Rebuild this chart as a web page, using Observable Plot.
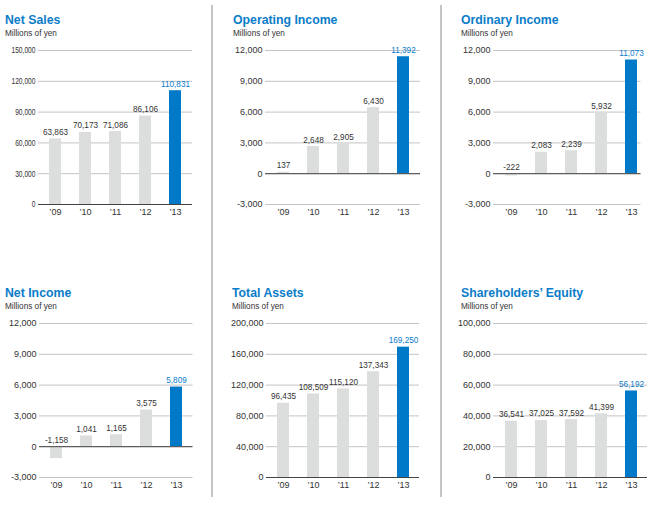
<!DOCTYPE html>
<html><head><meta charset="utf-8">
<script src="https://cdn.jsdelivr.net/npm/d3@7"></script>
<script src="https://cdn.jsdelivr.net/npm/@observablehq/plot@0.6"></script>
<style>
body{margin:0;background:#fff;font-family:"Liberation Sans",Arial,sans-serif;}
#root{position:relative;width:652px;height:523px;overflow:hidden;background:#fff;}
.title{position:absolute;font-weight:bold;font-size:13.5px;line-height:1;color:#0a7cc9;transform:scaleX(0.91);transform-origin:0 0;white-space:nowrap;}
.sub{position:absolute;font-size:8.2px;line-height:1;color:#333;white-space:nowrap;}
.sep{position:absolute;width:2px;background:#c4c4c4;top:5px;height:492px;}
.plot{position:absolute;}
</style></head><body><div id="root"></div>
<script>
const years = ["09", "10", "11", "12", "13"];
const netSales = [63863, 70173, 71086, 86106, 110831];
const operatingIncome = [137, 2648, 2905, 6430, 11392];
const ordinaryIncome = [-222, 2083, 2239, 5932, 11073];
const netIncome = [-1158, 1041, 1165, 3575, 5809];
const totalAssets = [96435, 108509, 115120, 137343, 169250];
const shareholdersEquity = [36541, 37025, 37592, 41399, 56192];

const netSalesTicks = [0, 30000, 60000, 90000, 120000, 150000];
const incomeTicks = [-3000, 0, 3000, 6000, 9000, 12000];
const assetsTicks = [0, 40000, 80000, 120000, 160000, 200000];
const equityTicks = [0, 20000, 40000, 60000, 80000, 100000];

const titles = ["Net Sales", "Operating Income", "Ordinary Income", "Net Income", "Total Assets", "Shareholders’ Equity"];
const unitLabel = "Millions of yen";

const GRAY = "#dcdddd", BLUE = "#0079c8", TBLUE = "#0a7cc9";
const fmt = v => (v < 0 ? "-" : "") + d3.format(",")(Math.abs(v));

const rows = [{titleTop: 13, subTop: 30, yTop: 50}, {titleTop: 285.5, subTop: 303, yTop: 323}];
const panels = [
  {title: titles[0], values: netSales, ticks: netSalesTicks, row: 0, tx: 5, frame: [38, 192], band: [38, 192], squeeze: 0.74},
  {title: titles[1], values: operatingIncome, ticks: incomeTicks, row: 0, tx: 233, frame: [265, 420], band: [265.6, 419.4]},
  {title: titles[2], values: ordinaryIncome, ticks: incomeTicks, row: 0, tx: 461, frame: [492.5, 640], band: [493.6, 647.4]},
  {title: titles[3], values: netIncome, ticks: incomeTicks, row: 1, tx: 5, frame: [38.5, 192], band: [38, 192]},
  {title: titles[4], values: totalAssets, ticks: assetsTicks, row: 1, tx: 232, frame: [266, 419], band: [265.6, 419.4]},
  {title: titles[5], values: shareholdersEquity, ticks: equityTicks, row: 1, tx: 461, frame: [493, 647], band: [493.6, 647.4]}
];

const root = document.getElementById("root");
for (const x of [211, 440]) {
  const s = document.createElement("div"); s.className = "sep"; s.style.left = x + "px"; root.appendChild(s);
}

for (const p of panels) {
  const r = rows[p.row];
  const t = document.createElement("div"); t.className = "title"; t.textContent = p.title;
  t.style.left = p.tx + "px"; t.style.top = r.titleTop + "px"; root.appendChild(t);
  const s = document.createElement("div"); s.className = "sub"; s.textContent = unitLabel;
  s.style.left = p.tx + "px"; s.style.top = r.subTop + "px"; root.appendChild(s);

  const data = years.map((year, i) => ({year, value: p.values[i]}));
  const svgLeft = p.frame[0] - 45, svgTop = r.yTop - 10;
  const width = p.frame[1] + 10 - svgLeft;
  const chart = Plot.plot({
    width, height: 188, marginLeft: 45, marginRight: 10, marginTop: 10, marginBottom: 24,
    style: {fontFamily: "Liberation Sans, Arial, sans-serif", color: "#333", background: "transparent", overflow: "visible"},
    x: {type: "band", domain: years, range: [p.band[0] - svgLeft, p.band[1] - svgLeft], paddingInner: 0.6, paddingOuter: 0.3},
    y: {domain: [p.ticks[0], p.ticks[p.ticks.length - 1]]},
    color: {type: "identity"},
    marks: [
      Plot.ruleY(p.ticks, {stroke: "#c4c4c4", strokeWidth: 1}),
      Plot.barY(data, {x: "year", y: "value", fill: d => d.year === "13" ? BLUE : GRAY}),
      Plot.ruleY([0], {stroke: "#444", strokeWidth: 1}),
      Plot.text(data, {x: "year", y: d => Math.max(0, d.value), text: d => fmt(d.value), dy: -4, lineAnchor: "bottom", fontSize: 8.2, fill: d => d.year === "13" ? TBLUE : "#333"}),
      Plot.axisY({ticks: p.ticks, tickSize: 0, tickPadding: 3, tickFormat: fmt, fontSize: 9, label: null}),
      Plot.axisX({tickSize: 0, tickPadding: 4, tickFormat: d => "’" + d, fontSize: 9, label: null})
    ]
  });
  chart.classList.add("plot");
  chart.style.left = svgLeft + "px";
  chart.style.top = svgTop + "px";
  root.appendChild(chart);
  if (p.squeeze) {
    chart.querySelectorAll('g[aria-label="y-axis tick label"] text').forEach(el => {
      const x = +(el.getAttribute("x") || 0);
      const t0 = el.getAttribute("transform") || "";
      el.setAttribute("transform", `${t0} translate(${x},0) scale(${p.squeeze},1) translate(${-x},0)`);
    });
  }
}
</script></body></html>
